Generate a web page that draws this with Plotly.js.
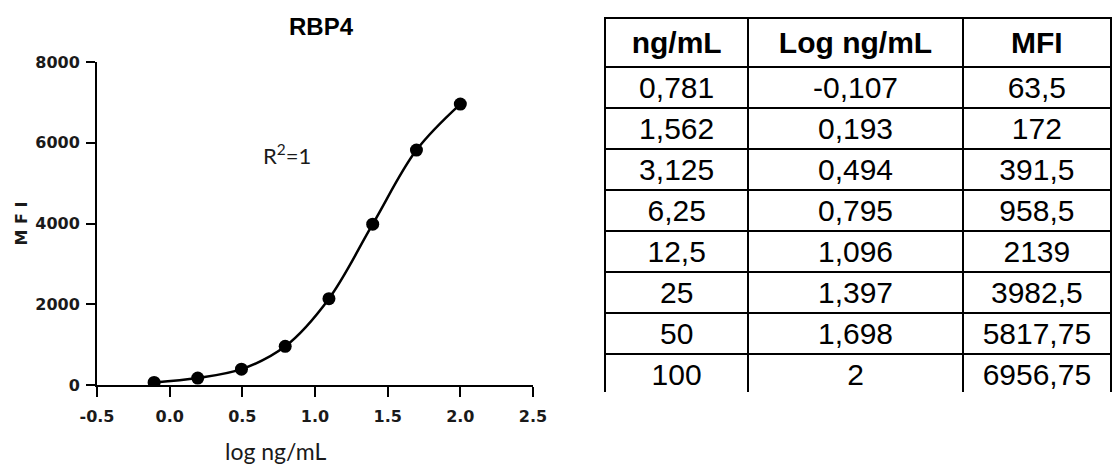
<!DOCTYPE html>
<html><head><meta charset="utf-8">
<script src="https://cdn.plot.ly/plotly-3.0.1.min.js"></script>
<style>html,body{margin:0;padding:0;background:#fff;}#chart{width:1114px;height:466px;}</style>
</head><body><div id="chart"></div>
<script>
const concentrations = [0.781, 1.562, 3.125, 6.25, 12.5, 25, 50, 100];
const logConcentrations = [-0.107, 0.193, 0.494, 0.795, 1.096, 1.397, 1.698, 2];
const mfiValues = [63.5, 172, 391.5, 958.5, 2139, 3982.5, 5817.75, 6956.75];
const tableHeaders = ['ng/mL', 'Log ng/mL', 'MFI'];
const xTickValues = [-0.5, 0, 0.5, 1, 1.5, 2, 2.5];
const xTickLabels = ['-0.5', '0.0', '0.5', '1.0', '1.5', '2.0', '2.5'];
const yTickValues = [0, 2000, 4000, 6000, 8000];
const yTickLabels = ['0', '2000', '4000', '6000', '8000'];
const chartTitle = 'RBP4';
const xAxisTitle = 'log ng/mL';
const yAxisTitle = 'M F I';
const fitLabel = 'R<sup>2</sup>=1';
const fitLabelX = 0.81;
const fitLabelY = 5700;

const W = 1114, H = 466;
const px = v => v / W;
const py = v => (H - v) / H;
const toComma = v => String(v).replace('.', ',');

const tickFont = {family: 'DejaVu Sans', size: 16, color: '#1a1a1a', weight: 'bold'};
const tableFont = {family: 'Liberation Sans, Arial', size: 30, color: '#000'};

const curve = {
  type: 'scatter', mode: 'lines+markers',
  x: logConcentrations, y: mfiValues,
  line: {color: '#000', width: 2.5, shape: 'spline', smoothing: 1},
  marker: {color: '#000', size: 13},
  xaxis: 'x', yaxis: 'y', showlegend: false, hoverinfo: 'x+y'
};

const table = {
  type: 'table',
  domain: {x: [px(605), px(1111)], y: [py(392), py(18)]},
  columnwidth: [143, 214, 148],
  header: {
    values: tableHeaders.map(h => '<b>' + h + '</b>'),
    align: 'center', height: 41,
    line: {color: '#000', width: 2}, fill: {color: '#fff'},
    font: tableFont
  },
  cells: {
    values: [concentrations.map(toComma), logConcentrations.map(toComma), mfiValues.map(toComma)],
    align: 'center', height: 41,
    line: {color: '#000', width: 2}, fill: {color: '#fff'},
    font: tableFont
  }
};

const layout = {
  width: W, height: H,
  margin: {l: 0, r: 0, t: 0, b: 0},
  paper_bgcolor: '#fff', plot_bgcolor: '#fff',
  showlegend: false,
  title: {
    text: chartTitle, x: px(321), xanchor: 'center', y: py(27), yanchor: 'middle',
    font: {family: 'Liberation Sans, Arial', size: 24, color: '#000', weight: 'bold'}
  },
  xaxis: {
    domain: [px(97), px(533)], range: [-0.5, 2.5],
    tickmode: 'array', tickvals: xTickValues, ticktext: xTickLabels,
    ticks: 'outside', ticklen: 10, tickwidth: 2, tickcolor: '#000',
    ticklabelstandoff: 6,
    showline: true, linewidth: 2, linecolor: '#000',
    showgrid: false, zeroline: false, tickfont: tickFont,
    anchor: 'y'
  },
  yaxis: {
    domain: [py(385), py(62)], range: [0, 8000],
    tickmode: 'array', tickvals: yTickValues, ticktext: yTickLabels,
    ticks: 'outside', ticklen: 9, tickwidth: 2, tickcolor: '#000',
    ticklabelstandoff: 3,
    showline: true, linewidth: 2, linecolor: '#000',
    showgrid: false, zeroline: false, tickfont: tickFont,
    title: {text: yAxisTitle, standoff: 4, font: {family: 'DejaVu Sans', size: 16, color: '#1a1a1a', weight: 'bold'}},
    anchor: 'x'
  },
  annotations: [
    {text: xAxisTitle, xref: 'paper', yref: 'paper', x: px(276), y: py(451), xanchor: 'center', yanchor: 'middle',
     showarrow: false, font: {family: 'Lato', size: 23, color: '#1a1a1a'}},
    {text: fitLabel, xref: 'x', yref: 'y', x: fitLabelX, y: fitLabelY, xanchor: 'center', yanchor: 'middle',
     showarrow: false, font: {family: 'Lato', size: 22, color: '#1a1a1a'}}
  ]
};

Plotly.newPlot('chart', [curve, table], layout, {displayModeBar: false, staticPlot: true});
</script>
</body></html>
